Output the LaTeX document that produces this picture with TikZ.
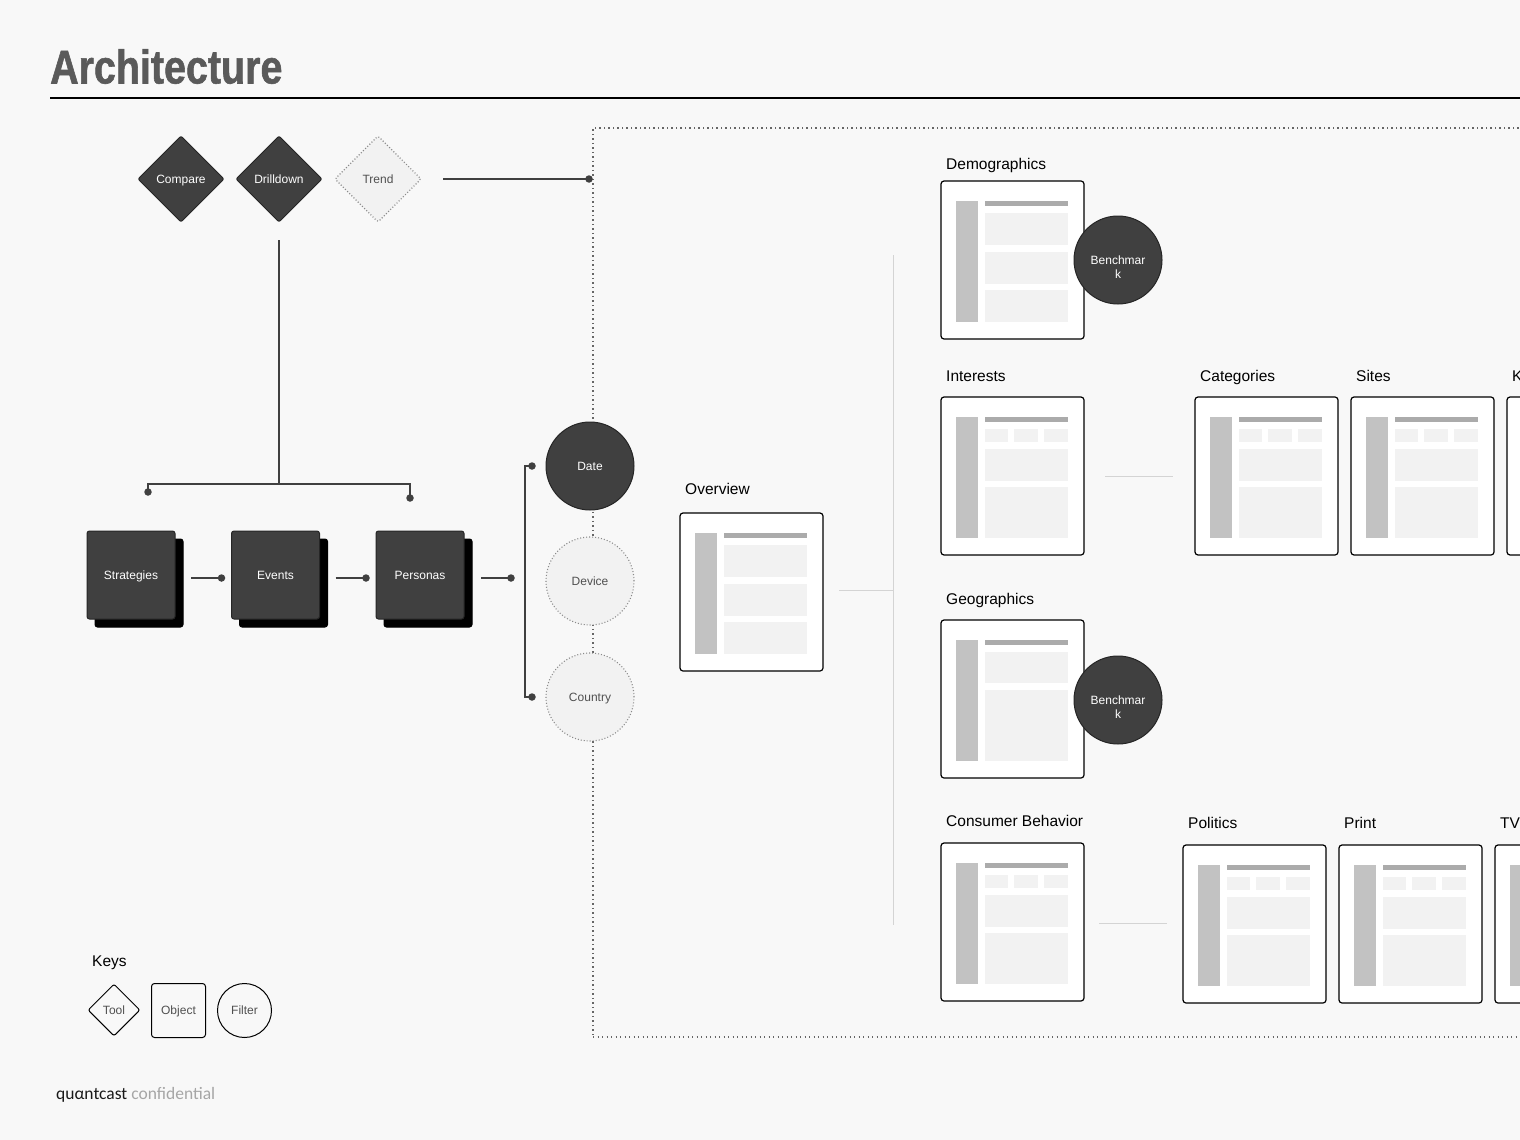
\documentclass[tikz,border=0pt]{standalone}
\usepackage{fontspec}
\setmainfont{Liberation Sans}
\newfontfamily\titlefont[FakeStretch=0.83,FakeBold=1.2]{Liberation Sans}
\newfontfamily\logofont{Carlito}
\usetikzlibrary{shapes.geometric,shadows}
\definecolor{bg}{HTML}{F8F8F8}
\definecolor{dark}{HTML}{404040}
\definecolor{edge}{HTML}{262626}
\definecolor{lightfill}{HTML}{F2F2F2}
\definecolor{sidec}{HTML}{C2C2C2}
\definecolor{topc}{HTML}{ABABAB}
\definecolor{blockc}{HTML}{F2F2F2}
\definecolor{faint}{HTML}{D4D4D4}
\definecolor{titlec}{HTML}{5A5A5A}
\definecolor{txtc}{HTML}{505050}
\definecolor{dotc}{HTML}{8A8A8A}
\tikzset{
  lbl/.style={anchor=base west, inner sep=0pt, font=\fontsize{15.5}{18}\selectfont, text=black},
  small/.style={font=\fontsize{12}{14}\selectfont, text height=8.6pt, text depth=0pt},
  tool/.style={diamond, aspect=1, minimum width=86pt, minimum height=86pt, inner sep=0pt, outer sep=0pt,
    fill=dark, draw=edge, line width=1pt, rounded corners=2pt, text=white, small},
  tooloff/.style={tool, fill=lightfill, draw=dotc, dotted, line width=1.1pt, text=txtc},
  obj/.style={rectangle, minimum width=88pt, minimum height=88pt, inner sep=0pt, outer sep=0pt,
    fill=dark, draw=edge, line width=1pt, rounded corners=2.5pt, text=white, small,
    general shadow={shadow xshift=8pt, shadow yshift=-8pt, fill=black, draw=black}},
  filt/.style={circle, minimum size=88pt, inner sep=0pt, outer sep=0pt, fill=dark, draw=edge,
    line width=1pt, text=white, small},
  filtoff/.style={filt, fill=lightfill, draw=dotc, dotted, line width=1.1pt, text=txtc},
  benchtxt/.style={anchor=north, inner sep=0pt, align=center, text=white, font=\fontsize{12}{14.5}\selectfont},
  card/.style={rectangle, anchor=north west, minimum width=143pt, minimum height=158pt, inner sep=0pt,
    outer sep=0pt, fill=white, draw=black, line width=1.2pt, rounded corners=3pt},
  side/.style={fill=sidec},
  topbar/.style={fill=topc},
  block/.style={fill=blockc},
  conn/.style={draw=dark, line width=1.2pt},
  faintline/.style={draw=faint, line width=1pt},
  dot/.style={circle, fill=dark, inner sep=0pt, minimum size=7.5pt},
  frame/.style={draw=dark!80, line width=1.3pt, dash pattern=on 1.3pt off 3.2pt},
  keytool/.style={diamond, aspect=1, minimum width=52pt, minimum height=52pt, inner sep=0pt,
    draw=black, line width=1pt, rounded corners=2pt, text=txtc, small},
  keyobj/.style={rectangle, minimum width=54pt, minimum height=54pt, inner sep=0pt,
    draw=black, line width=1pt, rounded corners=3pt, text=txtc, small},
  keyfilt/.style={circle, minimum size=54pt, inner sep=0pt, draw=black, line width=1pt, text=txtc, small}
}
\newcommand\blk[5]{\fill[block] ([shift={(#2,#3)}]#1.north west) rectangle ([shift={(#4,#5)}]#1.north west);}
\newcommand\cardbase[3]{%
  \node[card] (#1) at (#2,#3) {};
  \fill[side] ([shift={(15,20)}]#1.north west) rectangle ([shift={(37,141)}]#1.north west);
  \fill[topbar] ([shift={(44,20)}]#1.north west) rectangle ([shift={(127,25)}]#1.north west);}
\newcommand\cardO[3]{\cardbase{#1}{#2}{#3}%
  \blk{#1}{44}{32}{127}{64}\blk{#1}{44}{71}{127}{103}\blk{#1}{44}{109}{127}{141}}
\newcommand\cardT[3]{\cardbase{#1}{#2}{#3}%
  \blk{#1}{44}{32}{67}{45}\blk{#1}{73}{32}{97}{45}\blk{#1}{103}{32}{127}{45}%
  \blk{#1}{44}{52}{127}{84}\blk{#1}{44}{90}{127}{141}}
\newcommand\cardG[3]{\cardbase{#1}{#2}{#3}%
  \blk{#1}{44}{32}{127}{63}\blk{#1}{44}{70}{127}{141}}
\begin{document}
\begin{tikzpicture}[x=1pt,y=-1pt]
\useasboundingbox (0,0) rectangle (1520,1140);
\clip (0,0) rectangle (1520,1140);
\fill[bg] (0,0) rectangle (1520,1140);

% title
\node[anchor=base west, inner sep=0pt, text=titlec, font=\titlefont\bfseries\fontsize{47.5}{50}\selectfont] (title) at (50,83.5) {Architecture};
\coordinate (tl) at (50,98);
\coordinate (tr) at (1520,98);
\draw[black, line width=1.3pt] (tl) -- (tr);

% dotted container
\node[frame, rectangle, anchor=north west, minimum width=960pt, minimum height=909pt, inner sep=0pt, outer sep=0pt] (box) at (593,128) {};

% tools
\node[tool] (compare) at (181,179) {Compare};
\node[tool] (drill) at (279,179) {Drilldown};
\node[tooloff] (trend) at (378,179) {Trend};
\coordinate (tdot) at (589,179);
\draw[conn] ([xshift=22pt]trend.east) -- (tdot);
\node[dot] at (tdot) {};

% drilldown bracket
\coordinate (hub) at (279,484);
\coordinate (dl) at (148,492);
\coordinate (dr) at (410,498);
\draw[conn] ([yshift=-18pt]drill.south) -- (hub);
\draw[conn] (dl) |- (hub) -| (dr);
\node[dot] at (dl) {};
\node[dot] at (dr) {};

% objects
\node[obj] (strat) at (131,575) {Strategies};
\node[obj] (events) at (275.5,575) {Events};
\node[obj] (pers) at (420,575) {Personas};
\draw[conn] ([shift={(16,3)}]strat.east) -- ([shift={(-10,3)}]events.west) node[dot]{};
\draw[conn] ([shift={(16,3)}]events.east) -- ([shift={(-10,3)}]pers.west) node[dot]{};
\coordinate (pdot) at (511,578);
\draw[conn] ([shift={(17,3)}]pers.east) -- (pdot);
\node[dot] at (pdot) {};

% filters
\node[filt] (date) at (590,466) {Date};
\node[filtoff] (device) at (590,581) {Device};
\node[filtoff] (country) at (590,697) {Country};
\coordinate (bt) at ([xshift=-14pt]date.west);
\coordinate (bb) at ([xshift=-14pt]country.west);
\draw[conn] (bt) -- ++(-7,0) |- (bb);
\node[dot] at (bt) {};
\node[dot] at (bb) {};

% overview
\node[lbl] (lov) at (685,494) {Overview};
\cardO{overview}{680}{513}
\coordinate (ovr) at (893,590);
\draw[faintline] ([shift={(16,-2)}]overview.east) -- (ovr);
\coordinate (vt) at (893,255);
\coordinate (vb) at (893,925);
\draw[faintline] (vt) -- (vb);

% demographics
\node[lbl] (ldemo) at (946,169.5) {Demographics};
\cardO{demo}{941}{181}
\node[filt] (bench1) at (1118,260) {};
\node[benchtxt] (bench1t) at ([yshift=4.8pt]bench1.center) {Benchmar\\k};

% interests row
\node[lbl] (lint) at (946,381) {Interests};
\node[lbl] (lcat) at (1200,381) {Categories};
\node[lbl] (lsite) at (1356,381) {Sites};
\node[lbl] (lk) at (1512,381) {K};
\cardT{interests}{941}{397}
\cardT{categories}{1195}{397}
\cardT{sites}{1351}{397}
\cardT{kcard}{1507}{397}
\draw[faintline] ([xshift=21pt]interests.east) -- ([xshift=-22pt]categories.west);

% geographics
\node[lbl] (lgeo) at (946,604) {Geographics};
\cardG{geo}{941}{620}
\node[filt] (bench2) at (1118,700) {};
\node[benchtxt] (bench2t) at ([yshift=4.8pt]bench2.center) {Benchmar\\k};

% consumer behavior row
\node[lbl] (lcons) at (946,826) {Consumer Behavior};
\node[lbl] (lpol) at (1188,828) {Politics};
\node[lbl] (lprint) at (1344,828) {Print};
\node[lbl] (ltv) at (1500,828) {TV};
\cardT{consumer}{941}{843}
\cardT{politics}{1183}{845}
\cardT{print}{1339}{845}
\cardT{tv}{1495}{845}
\draw[faintline] ([shift={(15,1)}]consumer.east) -- ([shift={(-16,-1)}]politics.west);

% keys
\node[lbl] (lkeys) at (92,966) {Keys};
\node[keytool] (ktool) at (114,1010) {Tool};
\node[keyobj] (kobj) at (178.5,1010.5) {Object};
\node[keyfilt] (kfilt) at (244.5,1010.5) {Filter};

% logo
\node[anchor=base west, inner sep=0pt, font=\logofont\fontsize{17.5}{20}\selectfont] (logo) at (56,1099)
  {\textcolor{black!90}{quαntcast} \textcolor{black!35}{confidential}};
\end{tikzpicture}
\end{document}
